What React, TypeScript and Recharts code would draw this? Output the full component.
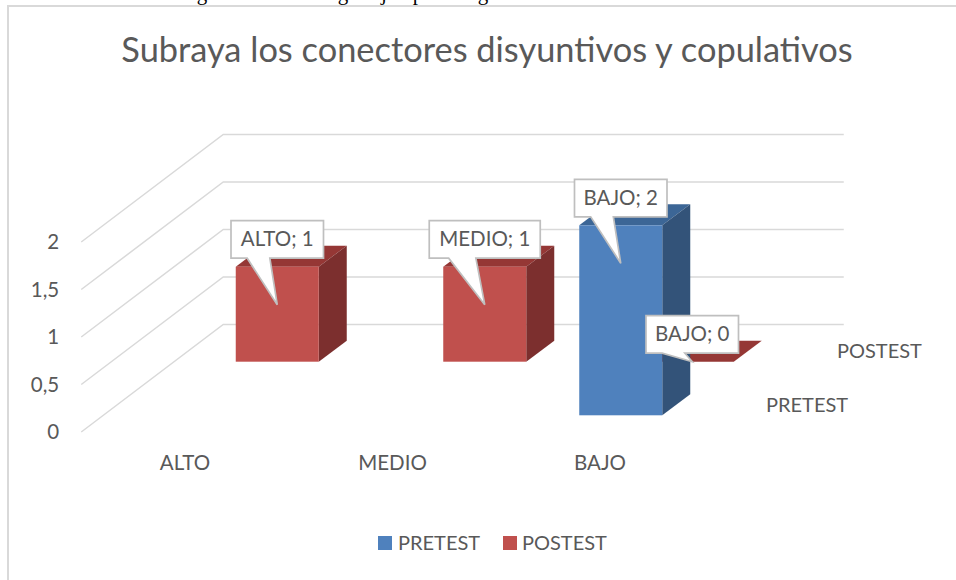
import React from 'react';
import { BarChart, Bar, XAxis, YAxis, CartesianGrid, Legend, LabelList } from 'recharts';

const CATEGORIES = ['ALTO', 'MEDIO', 'BAJO'];
const PRETEST = [null, null, 2];
const POSTEST = [1, 1, 0];
const Y_TICKS = [0, 0.5, 1, 1.5, 2];
const TITLE = 'Subraya los conectores disyuntivos y copulativos';
// tails of the line of body text above the chart, cut off by the page edge
const CUT_OFF_GLYPHS = [
  { ch: 'g', x: 202 },
  { ch: 'g', x: 343 },
  { ch: 'j', x: 384 },
  { ch: 'p', x: 418 },
  { ch: 'g', x: 483 },
];

const calloutText = (name: string, v: number | null) => (v == null ? null : `${name}; ${v}`);

const data = CATEGORIES.map((name, i) => ({
  name,
  pretest: PRETEST[i],
  postest: POSTEST[i],
  pretestLabel: calloutText(name, PRETEST[i]),
  postestLabel: calloutText(name, POSTEST[i]),
}));

const FONT = 'Lato, sans-serif';
const TEXT = '#595959';
const GRID = '#d9d9d9';
const BAR_W = 83;
// fake 3d: depth of a bar, and how far back each series row sits
const DEPTH = { x: 28, y: -21 };
const WALL = { x: 142, y: -107.5 };
const ROW = {
  pretest: { x: 21, y: -16.7 },
  postest: { x: 92.5, y: -70.3 },
};
const SKIN = {
  pretest: { front: '#4f81bd', top: '#3c6696', side: '#335379' },
  postest: { front: '#c0504d', top: '#953735', side: '#7c2f2e' },
};

const Bar3D = (props: any) => {
  const { x, y, width, height, rowKey } = props;
  if (props[rowKey] == null) return null;
  const row = ROW[rowKey as 'pretest'];
  const skin = SKIN[rowKey as 'pretest'];
  const l = x + row.x;
  const r = l + width;
  const t = y + row.y;
  const b = t + height;
  return (
    <g>
      <path d={`M${l} ${t}L${l + DEPTH.x} ${t + DEPTH.y}L${r + DEPTH.x} ${t + DEPTH.y}L${r} ${t}Z`} fill={skin.top} />
      <path d={`M${r} ${t}L${r + DEPTH.x} ${t + DEPTH.y}L${r + DEPTH.x} ${b + DEPTH.y}L${r} ${b}Z`} fill={skin.side} />
      {height > 0 && <rect x={l} y={t} width={width} height={height} fill={skin.front} />}
    </g>
  );
};

const Callout = (props: any) => {
  const { x, y, width, value, rowKey } = props;
  if (value == null) return null;
  const row = ROW[rowKey as 'pretest'];
  const label = String(value);
  const isZero = label.endsWith('; 0');
  const cx = x + row.x + width / 2;
  const top = y + row.y;
  const tipY = isZero ? top : top + 38;
  const boxW = label.length > 7 ? 111 : 92.5;
  const boxH = 37.5;
  const boxX = cx - boxW / 2;
  const boxY = tipY - (isZero ? 46 : 84);
  const a = boxX + boxW * 0.175;
  const c = boxX + boxW * 0.42;
  const d = `M${boxX} ${boxY}H${boxX + boxW}V${boxY + boxH}H${c}L${cx} ${tipY}L${a} ${boxY + boxH}H${boxX}Z`;
  return (
    <g>
      <path d={d} fill="#ffffff" stroke="#bfbfbf" strokeWidth={1.7} />
      <text x={boxX + boxW / 2} y={boxY + boxH / 2 + 7} textAnchor="middle" fontFamily={FONT} fontSize={20.5} fill={TEXT}>
        {label}
      </text>
    </g>
  );
};

const GridLine = (props: any) => {
  const { x1, x2, y1 } = props;
  const backY = y1 + WALL.y;
  return (
    <path
      key={props.key}
      d={`M${x1} ${y1}L${x1 + WALL.x} ${backY}L${x2 + 140} ${backY}`}
      fill="none"
      stroke={GRID}
      strokeWidth={1.5}
    />
  );
};

const LegendRow = () => (
  <div style={{ position: 'relative', height: 32, fontFamily: FONT, fontSize: 20, color: TEXT }}>
    <span style={{ position: 'absolute', left: 378, top: 9, width: 14, height: 14, background: SKIN.pretest.front }} />
    <span style={{ position: 'absolute', left: 398, top: 3 }}>PRETEST</span>
    <span style={{ position: 'absolute', left: 503, top: 9, width: 14, height: 14, background: SKIN.postest.front }} />
    <span style={{ position: 'absolute', left: 522, top: 3 }}>POSTEST</span>
  </div>
);

export default function App() {
  return (
    <div style={{ position: 'absolute', left: 0, top: 0, width: 956, height: 580, overflow: 'hidden', background: '#fff' }}>
      <div style={{ position: 'absolute', left: 7, top: 5, right: 0, bottom: 0, borderLeft: `2px solid ${GRID}`, borderTop: `2px solid ${GRID}` }} />
      <BarChart
        width={956}
        height={580}
        data={data}
        barSize={BAR_W}
        barGap={-BAR_W}
        margin={{ top: 242, right: 252.25, bottom: 48, left: 0 }}
        style={{ position: 'absolute', left: 0, top: 0 }}
      >
        {CUT_OFF_GLYPHS.map((g, i) => (
          <text key={i} x={g.x} y={-0.5} textAnchor="middle" fontFamily="'Liberation Serif', serif" fontSize={21} fill="#000">
            {g.ch}
          </text>
        ))}
        <text x={487} y={62} textAnchor="middle" fontFamily={FONT} fontSize={34.4} fill={TEXT}>
          {TITLE}
        </text>
        <CartesianGrid vertical={false} horizontal={GridLine} />
        <XAxis
          dataKey="name"
          height={100}
          axisLine={false}
          tickLine={false}
          tickSize={0}
          tickMargin={23}
          tick={{ fontFamily: FONT, fontSize: 20.5, fill: TEXT }}
        />
        <YAxis
          width={81.25}
          domain={[0, 2]}
          ticks={Y_TICKS}
          axisLine={false}
          tickLine={false}
          tickSize={0}
          tickMargin={22}
          tickFormatter={(v: number) => String(v).replace('.', ',')}
          tick={{ fontFamily: FONT, fontSize: 20.5, fill: TEXT }}
        />
        <Legend verticalAlign="middle" align="center" layout="horizontal" wrapperStyle={{ left: 0, top: 527, width: 956 }} content={LegendRow} />
        <Bar dataKey="postest" isAnimationActive={false} shape={(p: any) => <Bar3D {...p} rowKey="postest" />} />
        <Bar dataKey="pretest" isAnimationActive={false} shape={(p: any) => <Bar3D {...p} rowKey="pretest" />}>
          <LabelList dataKey="pretestLabel" content={(p: any) => <Callout {...p} rowKey="pretest" />} />
        </Bar>
        {/* empty bar, only so the postest callouts land above the blue bar */}
        <Bar dataKey="postest" isAnimationActive={false} shape={() => null}>
          <LabelList dataKey="postestLabel" content={(p: any) => <Callout {...p} rowKey="postest" />} />
        </Bar>
        <text x={837} y={358} fontFamily={FONT} fontSize={20} fill={TEXT}>POSTEST</text>
        <text x={766} y={412} fontFamily={FONT} fontSize={20} fill={TEXT}>PRETEST</text>
      </BarChart>
    </div>
  );
}
